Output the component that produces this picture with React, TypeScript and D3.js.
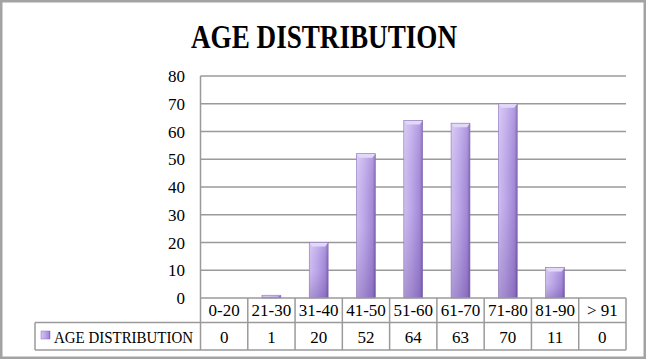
import React from "react";
import * as d3 from "d3";

const categories = ["0-20", "21-30", "31-40", "41-50", "51-60", "61-70", "71-80", "81-90", "> 91"];
const values = [0, 1, 20, 52, 64, 63, 70, 11, 0];
const yTicks = [0, 10, 20, 30, 40, 50, 60, 70, 80];
const seriesName = "AGE DISTRIBUTION";
const chartTitle = "AGE DISTRIBUTION";

const W = 647;
const H = 360;
const plotLeft = 200.5;
const plotRight = 626;
const plotTop = 76;
const plotBottom = 298;
const row1Bottom = 322.5;
const row2Bottom = 350;
const legendLeft = 35;
const grid = "#9a9a9a";
const serif = "'Liberation Serif', 'DejaVu Serif', serif";

export default function App() {
  const x = d3.scaleBand<string>().domain(categories).range([plotLeft, plotRight]).padding(0);
  const y = d3.scaleLinear().domain([0, 80]).range([plotBottom, plotTop]);
  const bw = x.bandwidth();
  const barW = bw * 0.4;

  return (
    <svg width={W} height={H} style={{ position: "absolute", left: 0, top: 0, background: "#fff" }}>
      <defs>
        <linearGradient id="barH" x1="0" x2="1" y1="0" y2="0">
          <stop offset="0" stopColor="#d3c4f3" />
          <stop offset="0.4" stopColor="#c1acec" />
          <stop offset="0.85" stopColor="#a58bda" />
          <stop offset="1" stopColor="#7a60ad" />
        </linearGradient>
        <linearGradient id="barV" x1="0" x2="0" y1="0" y2="1">
          <stop offset="0" stopColor="#ffffff" stopOpacity="0.15" />
          <stop offset="0.5" stopColor="#6a4aa0" stopOpacity="0.05" />
          <stop offset="1" stopColor="#4a2a80" stopOpacity="0.3" />
        </linearGradient>
      </defs>
      <rect x={1.25} y={1.25} width={W - 3.5} height={H - 3.5} fill="#fff" stroke="#a3a3a3" strokeWidth={2.5} />

      <text
        x={(191 + 457) / 2}
        y={48}
        textAnchor="middle"
        fontFamily={serif}
        fontWeight="bold"
        fontSize={33}
        textLength={266}
        lengthAdjust="spacingAndGlyphs"
        fill="#000"
      >
        {chartTitle}
      </text>

      {/* gridlines */}
      {yTicks.filter((t) => t > 0).map((t) => (
        <line key={t} x1={plotLeft} x2={plotRight} y1={y(t)} y2={y(t)} stroke={grid} strokeWidth={1.5} />
      ))}
      <line x1={plotLeft} x2={plotLeft} y1={plotTop} y2={plotBottom} stroke={grid} strokeWidth={1.5} />

      {/* y tick labels */}
      {yTicks.map((t) => (
        <text key={t} x={185} y={y(t) + 6} textAnchor="end" fontFamily={serif} fontSize={17} fill="#000">
          {t}
        </text>
      ))}

      {/* bars */}
      {values.map((v, i) => {
        const cx = (x(categories[i]) as number) + bw / 2;
        const bx = cx - barW / 2;
        const top = y(v);
        const h = plotBottom - top;
        if (h <= 0) return null;
        const bev = Math.min(4, h / 2);
        return (
          <g key={categories[i]}>
            <rect x={bx} y={top} width={barW} height={h} fill="url(#barH)" />
            <rect x={bx} y={top} width={barW} height={h} fill="url(#barV)" />
            <path
              d={`M${bx},${top} L${bx + barW},${top} L${bx + barW - 3},${top + bev} L${bx + 3},${top + bev} Z`}
              fill="#e2d8f8"
            />
            <rect x={bx} y={top} width={barW} height={h} fill="none" stroke="#8a72b8" strokeWidth={0.6} />
          </g>
        );
      })}

      {/* data table */}
      <line x1={plotLeft} x2={plotRight} y1={plotBottom} y2={plotBottom} stroke={grid} strokeWidth={1.5} />
      <line x1={legendLeft} x2={plotRight} y1={row1Bottom} y2={row1Bottom} stroke={grid} strokeWidth={1.5} />
      <line x1={legendLeft} x2={plotRight} y1={row2Bottom} y2={row2Bottom} stroke={grid} strokeWidth={1.5} />
      <line x1={legendLeft} x2={legendLeft} y1={row1Bottom} y2={row2Bottom} stroke={grid} strokeWidth={1.5} />
      {categories.map((c) => (
        <line key={c} x1={x(c)} x2={x(c)} y1={plotBottom} y2={row2Bottom} stroke={grid} strokeWidth={1.5} />
      ))}
      <line x1={plotRight} x2={plotRight} y1={plotBottom} y2={row2Bottom} stroke={grid} strokeWidth={1.5} />

      {categories.map((c, i) => {
        const cx = (x(c) as number) + bw / 2;
        return (
          <g key={"t" + c}>
            <text x={cx} y={316} textAnchor="middle" fontFamily={serif} fontSize={17} fill="#000">
              {c}
            </text>
            <text x={cx} y={342.5} textAnchor="middle" fontFamily={serif} fontSize={17} fill="#000">
              {values[i]}
            </text>
          </g>
        );
      })}

      {/* legend key */}
      <rect x={41} y={331} width={9} height={8} fill="url(#barH)" stroke="#8a72b8" strokeWidth={0.5} />
      <text
        x={54}
        y={342.5}
        fontFamily={serif}
        fontSize={17}
        textLength={139}
        lengthAdjust="spacingAndGlyphs"
        fill="#000"
      >
        {seriesName}
      </text>
    </svg>
  );
}
